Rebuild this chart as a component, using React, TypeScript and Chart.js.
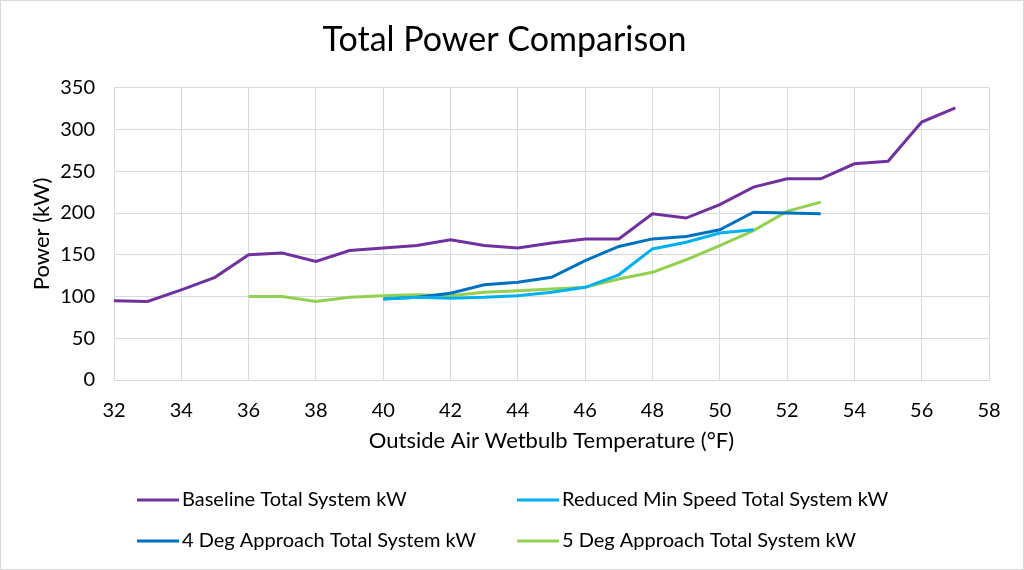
import React, { useEffect, useRef } from "react";
import { Chart, registerables } from "chart.js";

Chart.register(...registerables);

const baselineTemps = [32, 33, 34, 35, 36, 37, 38, 39, 40, 41, 42, 43, 44, 45, 46, 47, 48, 49, 50, 51, 52, 53, 54, 55, 56, 57];
const baselineKw = [95, 94, 108, 123, 150, 152, 142, 155, 158, 161, 168, 161, 158, 164, 169, 169, 199, 194, 210, 231, 241, 241, 259, 262, 309, 326];

const reducedTemps = [40, 41, 42, 43, 44, 45, 46, 47, 48, 49, 50, 51];
const reducedKw = [97, 99, 98, 99, 101, 105, 111, 126, 157, 165, 176, 180];

const fourDegTemps = [40, 41, 42, 43, 44, 45, 46, 47, 48, 49, 50, 51, 52, 53];
const fourDegKw = [97, 99, 104, 114, 117, 123, 143, 160, 169, 172, 180, 201, 200, 199];

const fiveDegTemps = [36, 37, 38, 39, 40, 41, 42, 43, 44, 45, 46, 47, 48, 49, 50, 51, 52, 53];
const fiveDegKw = [100, 100, 94, 99, 101, 102, 101, 105, 107, 109, 111, 121, 129, 144, 161, 179, 202, 213];

const seriesNames = [
  "Baseline Total System kW",
  "Reduced Min Speed Total System kW",
  "4 Deg Approach Total System kW",
  "5 Deg Approach Total System kW",
];
const seriesColors = ["#7030A0", "#00B0F0", "#0070C0", "#92D050"];

const xTicks = [32, 34, 36, 38, 40, 42, 44, 46, 48, 50, 52, 54, 56, 58];
const yTicks = [0, 50, 100, 150, 200, 250, 300, 350];

const FONT = "Lato, 'Open Sans', sans-serif";

const pts = (xs: number[], ys: number[]) => xs.map((x, i) => ({ x, y: ys[i] }));

const legendPlugin = {
  id: "gridLegend",
  afterDraw(chart: any) {
    const ctx = chart.ctx;
    ctx.save();
    ctx.strokeStyle = "#d9d9d9";
    ctx.lineWidth = 1;
    ctx.strokeRect(0.5, 0.5, chart.width - 1, chart.height - 1);
    const cols = [137, 517];
    const rows = [500, 541];
    chart.data.datasets.forEach((ds: any, i: number) => {
      const x = cols[i % 2];
      const y = rows[Math.floor(i / 2)];
      ctx.strokeStyle = ds.borderColor;
      ctx.lineWidth = 3;
      ctx.beginPath();
      ctx.moveTo(x, y);
      ctx.lineTo(x + 42, y);
      ctx.stroke();
      ctx.fillStyle = "#000";
      ctx.font = `20px ${FONT}`;
      ctx.textBaseline = "middle";
      ctx.textAlign = "left";
      ctx.fillText(ds.label, x + 45, y);
    });
    ctx.restore();
  },
};

export default function App() {
  const ref = useRef<HTMLCanvasElement>(null);
  useEffect(() => {
    const datasets = [
      pts(baselineTemps, baselineKw),
      pts(reducedTemps, reducedKw),
      pts(fourDegTemps, fourDegKw),
      pts(fiveDegTemps, fiveDegKw),
    ].map((data, i) => ({
      label: seriesNames[i],
      data,
      borderColor: seriesColors[i],
      backgroundColor: seriesColors[i],
      borderWidth: 3,
      pointRadius: 0,
      tension: 0,
      fill: false,
    }));
    const chart = new Chart(ref.current!, {
      type: "line",
      data: { datasets },
      plugins: [legendPlugin],
      options: {
        animation: false,
        responsive: false,
        layout: { padding: { left: 20, right: 35, top: 0, bottom: 110 } },
        plugins: {
          legend: { display: false },
          tooltip: { enabled: false },
          title: {
            display: true,
            text: "Total Power Comparison",
            color: "#000",
            font: { family: FONT, size: 34, weight: "normal" },
            padding: { top: 20, bottom: 27 },
          },
        },
        scales: {
          x: {
            type: "linear",
            min: 32,
            max: 58,
            afterBuildTicks: (s: any) => {
              s.ticks = xTicks.map((v) => ({ value: v }));
            },
            afterFit: (s: any) => {
              s.height = 80;
            },
            ticks: {
              color: "#000",
              font: { family: FONT, size: 20 },
              padding: 19,
              maxRotation: 0,
              autoSkip: false,
            },
            grid: { color: "#d9d9d9", drawTicks: false },
            border: { color: "#d9d9d9" },
            title: {
              display: true,
              text: "Outside Air Wetbulb Temperature (°F)",
              color: "#000",
              font: { family: FONT, size: 22 },
              padding: { top: 0, bottom: 6 },
            },
          },
          y: {
            min: 0,
            max: 350,
            afterBuildTicks: (s: any) => {
              s.ticks = yTicks.map((v) => ({ value: v }));
            },
            afterFit: (s: any) => {
              s.width = 94;
            },
            ticks: {
              color: "#000",
              font: { family: FONT, size: 20 },
              padding: 19,
            },
            grid: { color: "#d9d9d9", drawTicks: false },
            border: { color: "#d9d9d9" },
            title: {
              display: true,
              text: "Power (kW)",
              color: "#000",
              font: { family: FONT, size: 22 },
              padding: { top: 9, bottom: 0 },
            },
          },
        },
      },
    } as any);
    return () => chart.destroy();
  }, []);
  return (
    <div style={{ position: "absolute", left: 0, top: 0, width: 1024, height: 570, background: "#fff" }}>
      <canvas ref={ref} width={1024} height={570} />
    </div>
  );
}
